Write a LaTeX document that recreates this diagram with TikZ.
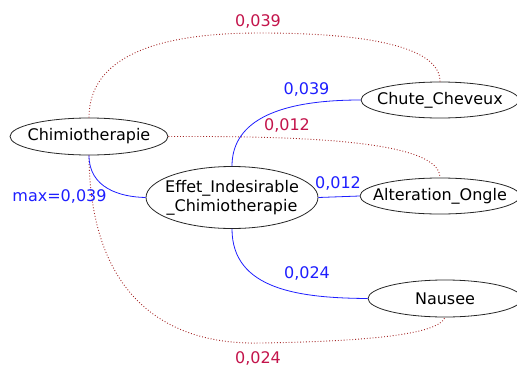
\documentclass[tikz,border=0pt]{standalone}
\usepackage{fontspec}
\setmainfont{DejaVu Sans}
\usetikzlibrary{shapes.geometric}
\definecolor{linkred}{RGB}{165,40,40}
\definecolor{labelred}{RGB}{195,20,75}
\definecolor{linkblue}{RGB}{30,30,255}
\begin{document}
\begin{tikzpicture}[x=1pt,y=-1pt,
  txt/.style={font=\fontsize{16}{19}\selectfont,inner sep=0pt},
  % an ellipse of fixed size with its caption centred inside
  concept/.style n args={3}{ellipse,draw=black!85,line width=0.8pt,inner sep=0pt,
    fill=white,minimum width=#1,minimum height=#2,
    label={[txt,align=center]center:#3}},
  strong/.style={draw=linkblue,line width=0.8pt},
  weak/.style={draw=linkred,line width=0.9pt,dotted},
  bluelbl/.style={txt,text=linkblue},
  redlbl/.style={txt,text=labelred}]
\useasboundingbox (0,0) rectangle (517,367);

% concepts
\node[concept={158pt}{37pt}{Chimiotherapie}] (chimio) at (89,136.5) {};
\node[concept={172pt}{62pt}{Effet\_Indesirable\\\_Chimiotherapie}] (effet) at (232,197.5) {};
\node[concept={158pt}{36pt}{Chute\_Cheveux}] (chute) at (440,100) {};
\node[concept={160pt}{36pt}{Alteration\_Ongle}] (alter) at (440,196) {};
\node[concept={154pt}{37pt}{Nausee}] (nausee) at (445,298.5) {};

% weak (dotted) links from Chimiotherapie
\draw[weak] (chimio.north) .. controls (89,40) and (200,33) .. (260,33)
  .. controls (380,33) and (440,50) .. (chute.north);
\draw[weak] (chimio.east) .. controls (300,136) and (440,140) .. (alter.north);
\draw[weak] (chimio.south) .. controls (90,300) and (170,345) .. (260,343)
  .. controls (400,341) and (440,330) .. (nausee.south);

% strong links through Effet_Indesirable_Chimiotherapie
\draw[strong] (chimio.south) .. controls (89,188) and (120,197) .. (effet.west);
\draw[strong] (effet.north) .. controls (232,125) and (270,100) .. (chute.west);
\draw[strong] (effet.east) -- (alter.west);
\draw[strong] (effet.south) .. controls (232,290) and (300,298) .. (nausee.west);

% labels
\node[redlbl] (l1) at (258,21) {0,039};
\node[bluelbl] (l2) at (306.5,89) {0,039};
\node[redlbl] (l3) at (287,125) {0,012};
\node[bluelbl] (l4) at (338,183) {0,012};
\node[bluelbl] (l5) at (59.5,196) {max=0,039};
\node[bluelbl] (l6) at (307,273) {0,024};
\node[redlbl] (l7) at (258,358) {0,024};
\end{tikzpicture}
\end{document}
